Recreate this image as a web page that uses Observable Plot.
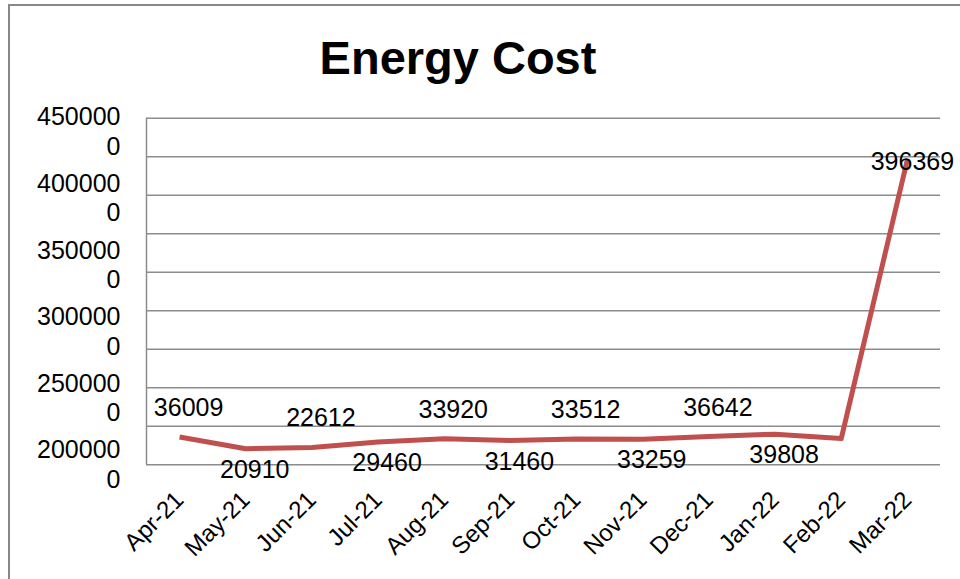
<!DOCTYPE html>
<html>
<head>
<meta charset="utf-8">
<script src="https://cdn.jsdelivr.net/npm/d3@7"></script>
<script src="https://cdn.jsdelivr.net/npm/@observablehq/plot@0.6"></script>
<style>
  html, body { margin: 0; padding: 0; background: #fff; overflow: hidden; }
  #wrap { position: relative; width: 960px; height: 579px; font-family: "Liberation Sans", Arial, sans-serif; }
  #border { position: absolute; left: 8px; top: 4px; width: 1000px; height: 700px; border-left: 2px solid #888; border-top: 2px solid #888; box-sizing: border-box; pointer-events: none; }
  #title { position: absolute; left: 0; width: 916px; top: 34px; text-align: center; font-size: 47px; line-height: 47px; font-weight: bold; color: #000; }
  svg { display: block; }
</style>
</head>
<body>
<div id="wrap">
  <div id="chart"></div>
  <div id="border"></div>
  <div id="title">Energy Cost</div>
</div>
<script>
const months = ["Apr-21","May-21","Jun-21","Jul-21","Aug-21","Sep-21","Oct-21","Nov-21","Dec-21","Jan-22","Feb-22","Mar-22"];
const costs = [360090, 209100, 226120, 294600, 339200, 314600, 335120, 332590, 366420, 398080, 340000, 3963690];
const costLabels = ["36009","20910","22612","29460","33920","31460","33512","33259","36642","39808","","396369"];
const yTicks = [0, 500000, 1000000, 1500000, 2000000, 2500000, 3000000, 3500000, 4000000, 4500000];

const rows = months.map((m, i) => ({i, month: m, cost: costs[i], label: costLabels[i]}));
const last = rows.length - 1;
const above = rows.filter(d => d.label && d.i < last && d.i % 2 === 0);
const below = rows.filter(d => d.label && d.i < last && d.i % 2 === 1);
const peak = rows.filter(d => d.label && d.i === last);

const yMax = yTicks[yTicks.length - 1];
// Tick labels are wrapped (last digit on a second line) and spread wider than the gridlines
const spread = 1.729;
const wrapLabel = v => { const s = String(v); return s.slice(0, -1) + "\n" + s.slice(-1); };

const lineColor = "#C0504D";
const gridColor = "#8c8c8c";

const plot = Plot.plot({
  width: 960,
  height: 579,
  marginLeft: 146,
  marginRight: 20,
  marginTop: 117.7,
  marginBottom: 114.7,
  style: {fontFamily: "'Liberation Sans', Arial, sans-serif", color: "#000", background: "transparent", overflow: "visible"},
  x: {type: "linear", domain: [-0.5, months.length - 0.5]},
  y: {type: "linear", domain: [0, yMax], axis: null},
  marks: [
    Plot.ruleY(yTicks, {stroke: gridColor, strokeWidth: 1.5}),
    Plot.ruleX([-0.5], {y1: 0, y2: yMax, stroke: gridColor, strokeWidth: 1.5}),
    Plot.text(yTicks, {
      y: d => yMax - (yMax - d) * spread,
      frameAnchor: "left",
      text: wrapLabel,
      textAnchor: "end",
      dx: -26,
      dy: 12.5,
      lineHeight: 1.18,
      fontSize: 25,
      fill: "#000"
    }),
    Plot.axisX(d3.range(months.length), {
      anchor: "bottom",
      tickFormat: i => months[i],
      tickRotate: -45,
      tickSize: 0,
      tickPadding: 31,
      fontSize: 24,
      label: null
    }),
    Plot.line(rows, {x: "i", y: "cost", stroke: lineColor, strokeWidth: 5, strokeLinejoin: "round", strokeLinecap: "butt"}),
    Plot.text(above, {x: "i", y: "cost", text: "label", dx: 9, dy: -29, fontSize: 25, fill: "#000"}),
    Plot.text(below, {x: "i", y: "cost", text: "label", dx: 9, dy: 21, fontSize: 25, fill: "#000"}),
    Plot.text(peak, {x: "i", y: "cost", text: "label", dx: 5, dy: 2, fontSize: 25, fill: "#000"})
  ]
});

// clip the wrapped y tick labels the way the original image crops them
const ns = "http://www.w3.org/2000/svg";
const defs = document.createElementNS(ns, "defs");
const cp = document.createElementNS(ns, "clipPath");
cp.setAttribute("id", "ytick-clip");
const r = document.createElementNS(ns, "rect");
r.setAttribute("x", 0); r.setAttribute("y", 0);
r.setAttribute("width", 960); r.setAttribute("height", 479.5);
cp.appendChild(r); defs.appendChild(cp); plot.insertBefore(defs, plot.firstChild);
const g = plot.querySelector('g[aria-label="text"]');
if (g) g.setAttribute("clip-path", "url(#ytick-clip)");

document.getElementById("chart").appendChild(plot);
</script>
</body>
</html>
